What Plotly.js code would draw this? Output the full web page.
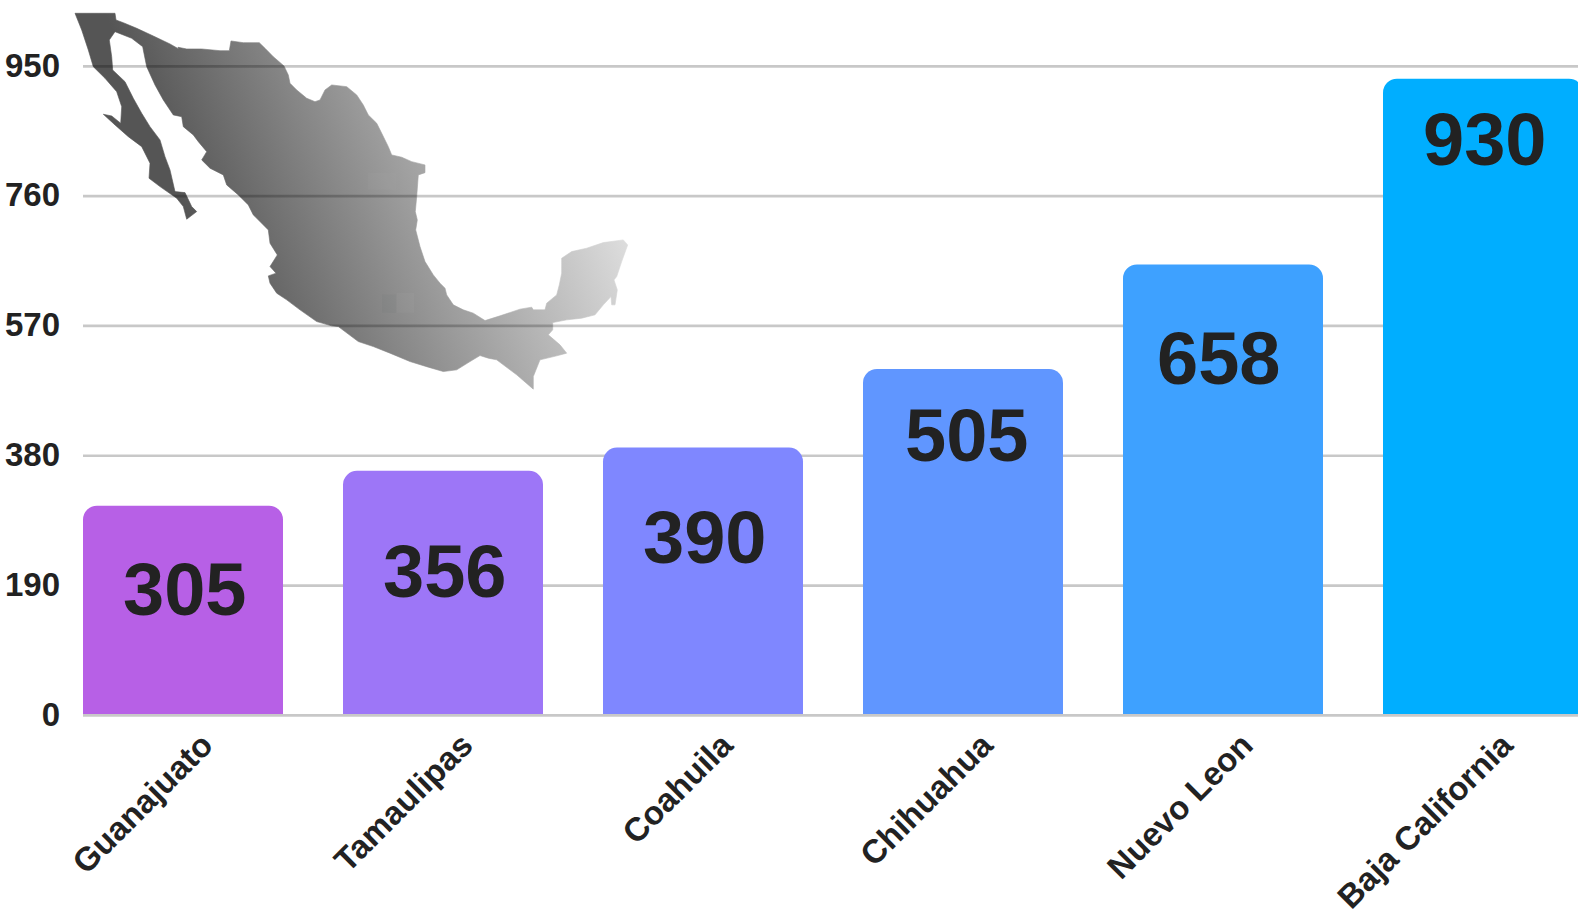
<!DOCTYPE html>
<html>
<head>
<meta charset="utf-8">
<script src="https://cdn.plot.ly/plotly-3.0.1.min.js"></script>
<style>html,body{margin:0;padding:0;background:#fff;overflow:hidden}#chart{width:1578px;height:913px}</style>
</head>
<body>
<div id="chart"></div>
<script>
const states = ['Guanajuato','Tamaulipas','Coahuila','Chihuahua','Nuevo Leon','Baja California'];
const counts = [305,356,390,505,658,930];
const barColors = ['#b760e6','#9d76f7','#7f87ff','#6096ff','#3ea1ff','#00aeff'];
const yTicks = [0,190,380,570,760,950];
const labelDropPx = [84,101,90,67,94,61];
const labelShiftPx = [1,1,1,3,-5,1];

// Decorative map outline, traced clockwise on zoom crops of the picture (3x scale).
// Each piece: crop origin, then points inside that crop.
const mapPieces = [
  [[70,10],[[15,10],[135,10],[138,30],[160,38],[200,55],[250,78],[300,102],[325,116]]],
  [[130,30],[[144,52],[170,57],[215,57],[270,62],[298,62],[303,33],[340,38],[388,38],[405,55],[430,80],[462,108],[475,135],[480,160],[500,180],[530,205],[555,215],[570,210],[585,180],[605,165],[650,170],[680,195],[700,225],[715,255],[740,280],[755,310],[775,350],[785,375],[815,382],[845,395],[885,405]]],
  [[190,140],[[705,98],[685,105],[680,170],[676,215],[682,240],[677,270],[690,320],[705,365],[730,405],[750,430]]],
  [[440,230],[[15,175],[20,195],[40,225],[70,240],[100,250],[135,272],[180,258],[240,238],[275,232],[280,240],[315,240],[320,220],[350,195],[358,165],[365,130],[365,85],[395,65],[440,55],[490,38],[550,30],[563,45],[545,95],[530,140],[522,150],[532,180],[525,225],[515,225],[513,200],[490,225],[465,255],[425,265],[380,270],[338,278],[338,300],[325,315],[360,345]]],
  [[300,290],[[800,190],[770,198],[720,210],[700,260],[700,298],[650,255],[590,210],[565,205],[540,197],[510,215],[470,240],[430,245],[385,232],[330,215],[270,190],[220,170],[175,155],[115,110],[95,108],[50,95],[0,60]]],
  [[190,140],[[290,480],[260,460],[240,430],[235,408],[258,400],[240,380],[262,345],[240,310],[235,270],[190,225],[175,195],[145,165],[110,135],[100,105],[60,85],[35,60],[50,35],[25,5]]],
  [[130,30],[[205,335],[190,315],[160,290],[155,260],[130,255],[100,210],[75,165],[50,110],[40,60]]],
  [[70,10],[[218,110],[185,85],[135,65],[118,90],[125,140],[128,180],[165,215],[190,265],[215,310],[240,350],[270,390],[285,440],[300,480],[315,545],[345,548],[365,590],[380,605],[350,628],[340,590],[320,565],[270,530],[237,505],[240,460],[215,410],[175,380],[135,345],[100,313],[125,318],[152,340],[155,290],[140,245],[105,205],[70,170],[55,120],[35,60]]]
];

const W = 1578, H = 913, ML = 83, BASE = 714.3;
const PX_PER_UNIT = 649.3 / 950;
const poly = [];
mapPieces.forEach(([o, pts]) => pts.forEach(p => poly.push([(p[0]/3+o[0]).toFixed(1), (p[1]/3+o[1]).toFixed(1)])));
const d = 'M' + poly.map(p => p.join(' ')).join('L') + 'Z';
const svg = `<svg xmlns="http://www.w3.org/2000/svg" width="${W}" height="${H}" viewBox="0 0 ${W} ${H}"><defs><linearGradient id="g" gradientUnits="userSpaceOnUse" x1="100" y1="0" x2="479" y2="-152"><stop offset="0" stop-color="#555555"/><stop offset="1" stop-color="#e0e0e0"/></linearGradient></defs><path d="${d}" fill="url(#g)" stroke="url(#g)" stroke-width="0.6"/><rect x="368" y="173" width="28" height="17" fill="#fff" fill-opacity="0.02"/><rect x="382" y="295" width="14" height="18" fill="#5a6a60" fill-opacity="0.07"/><rect x="397" y="293" width="17" height="20" fill="#fff" fill-opacity="0.03"/></svg>`;
const mapUri = 'data:image/svg+xml;base64,' + btoa(svg);

const trace = {
  type: 'bar',
  x: states.map((s, i) => i),
  y: counts,
  width: 200/260,
  marker: {color: barColors, cornerradius: 14, line: {width: 0}},
  hoverinfo: 'skip'
};

const layout = {
  width: W, height: H,
  margin: {l: ML, r: 0, t: 0, b: H - BASE, pad: 0},
  paper_bgcolor: '#fff', plot_bgcolor: 'rgba(0,0,0,0)',
  showlegend: false,
  font: {family: '"Liberation Sans", Arial, sans-serif', color: '#222'},
  xaxis: {
    range: [-100/260, -100/260 + (W-ML)/260],
    tickmode: 'array', tickvals: states.map((s, i) => i), ticktext: states,
    tickangle: -45, ticks: '', showgrid: false, zeroline: false, showline: false,
    tickfont: {size: 33, weight: 700, color: '#222'},
    ticklabelstandoff: 4, ticklabelshift: 20, fixedrange: true
  },
  yaxis: {
    range: [0, BASE / PX_PER_UNIT],
    tickmode: 'array', tickvals: yTicks, ticktext: yTicks.map(String),
    ticks: '', showgrid: false, zeroline: false, showline: false,
    tickfont: {size: 33, weight: 700, color: '#222'},
    ticklabelstandoff: 22, fixedrange: true
  },
  images: [{
    source: mapUri, xref: 'paper', yref: 'paper', layer: 'below',
    x: -ML/(W-ML), sizex: W/(W-ML), y: 1, sizey: H/BASE,
    xanchor: 'left', yanchor: 'top', sizing: 'stretch'
  }],
  shapes: yTicks.map(v => ({
    type: 'rect', layer: 'below', xref: 'paper', x0: 0, x1: 1,
    yref: v === 0 ? 'paper' : 'y', ysizemode: 'pixel', yanchor: v, y0: -2.7, y1: 0,
    fillcolor: 'rgba(0,0,0,0.216)', line: {width: 0}
  })),
  annotations: counts.map((v, i) => ({
    x: i, y: v, xref: 'x', yref: 'y', text: String(v), showarrow: false,
    xanchor: 'center', yanchor: 'middle',
    xshift: labelShiftPx[i], yshift: -labelDropPx[i],
    font: {size: 74, weight: 700, color: '#222'}
  }))
};

Plotly.newPlot('chart', [trace], layout, {displayModeBar: false, staticPlot: true});
</script>
</body>
</html>
